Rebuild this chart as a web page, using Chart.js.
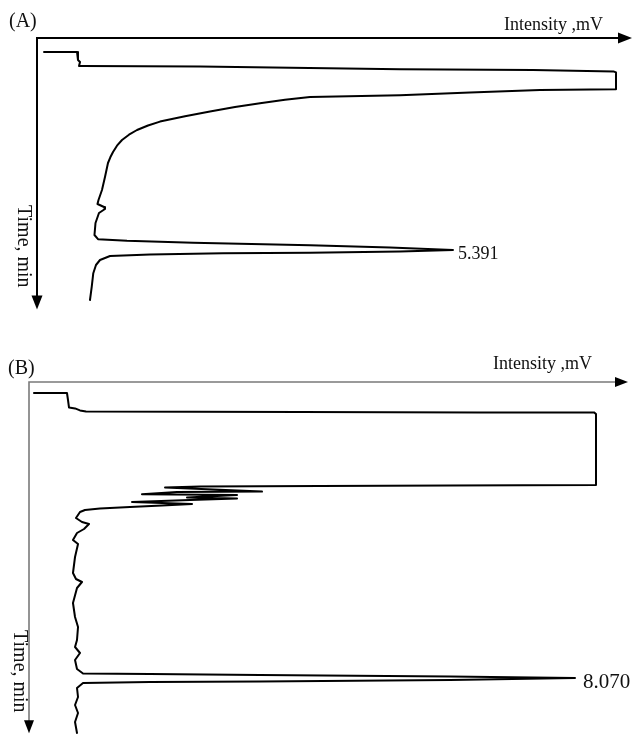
<!DOCTYPE html>
<html>
<head>
<meta charset="utf-8">
<script src="https://cdn.jsdelivr.net/npm/chart.js@4/dist/chart.umd.min.js"></script>
<style>
  html, body { margin: 0; padding: 0; background: #fff; }
  #wrap { position: relative; width: 632px; height: 734px; }
  canvas { position: absolute; left: 0; }
</style>
</head>
<body>
<div id="wrap">
  <canvas id="chartA" width="632" height="330" style="top:0"></canvas>
  <canvas id="chartB" width="632" height="404" style="top:330px"></canvas>
</div>
<script>
// Chromatogram (A): retention time (min) and detector signal (mV)
const timeA = [0.44, 0.44, 0.64, 0.69, 0.79, 0.79, 0.80, 0.87, 0.89, 0.93, 0.95,
  1.37, 1.39, 1.45, 1.52, 1.565, 1.635, 1.72, 1.815, 1.93, 2.0475, 2.18, 2.2775, 2.39,
  2.5075, 2.64, 2.7825, 2.94, 3.0725, 3.215, 3.565,
  3.89, 4.14, 4.24, 4.315, 4.365, 4.465, 4.715, 5.015, 5.12, 5.16, 5.21, 5.27, 5.33,
  5.391, 5.43, 5.46, 5.47, 5.50, 5.54, 5.64, 5.765, 5.97, 6.31, 6.64];
const intensityA = [1.17, 6.67, 6.83, 7.17, 7.0, 7.5, 27.17, 60.5, 82.67, 96.17, 96.5,
  96.5, 83.83, 72.17, 60.5, 45.5, 41.33, 37.17, 33.0, 28.83, 24.67, 20.5, 18.5, 16.67,
  15.33, 14.17, 13.33, 12.67, 12.22, 11.83, 11.33,
  10.83, 10.25, 10.08, 11.17, 11.33, 10.33, 9.75, 9.58, 10.17, 15.0, 26.0, 45.5, 58.83,
  69.33, 60.5, 45.5, 31.0, 18.83, 12.17, 10.5, 9.83, 9.38, 9.12, 8.83];
const peakA = 5.391;

// Chromatogram (B)
const timeB = [0.945, 0.945, 1.12, 1.31, 1.33, 1.38, 1.41, 1.42, 1.43, 1.43, 1.47,
  3.245, 3.26, 3.27, 3.2825, 3.3075, 3.41, 3.42, 3.4775, 3.495, 3.5575, 3.5825, 3.62,
  3.67, 3.72, 3.7575, 3.795, 3.8325, 3.87, 3.92, 4.07, 4.17, 4.22, 4.345, 4.445, 4.62,
  4.72, 5.045, 5.445, 5.595, 5.67, 5.82, 6.195, 6.545, 6.795, 7.12, 7.295, 7.445, 7.62,
  7.845, 7.9575, 7.97, 7.995, 8.0325, 8.070, 8.12, 8.1575, 8.17, 8.195, 8.32, 8.545,
  8.745, 8.945, 9.17, 9.445];
const intensityB = [0.83, 6.33, 6.5, 6.67, 7.67, 8.5, 9.5, 45.17, 75.17, 94.17, 94.5,
  94.5, 70.17, 48.5, 28.5, 22.67, 38.83, 24.67, 18.83, 34.67, 26.33, 34.67, 26.83,
  17.17, 27.17, 22.17, 16.83, 11.83, 9.33, 8.5, 7.83, 8.83, 10.0, 9.17, 8.0, 7.33,
  8.17, 7.67, 7.33, 7.83, 8.83, 8.0, 7.33, 7.67, 8.17, 8.0, 7.67, 8.5, 7.67,
  8.0, 9.0, 20.17, 38.5, 70.17, 91.0, 70.17, 38.5, 20.17, 9.0, 8.0, 8.17,
  7.67, 8.17, 7.67, 8.0];
const peakB = 8.070;

const panelLabels = ['(A)', '(B)'];
const intensityTitle = 'Intensity ,mV';
const timeTitle = 'Time, min';

const serif = '"Liberation Serif", "Times New Roman", serif';

// Time runs downward, intensity to the right; axes meet at the top-left corner.
const rotatedAxes = {
  id: 'rotatedAxes',
  afterDatasetsDraw(chart, args, o) {
    const ctx = chart.ctx, a = chart.chartArea;
    ctx.save();
    ctx.strokeStyle = o.axisColor;
    ctx.lineWidth = o.axisWidth;
    ctx.lineJoin = 'miter';
    ctx.beginPath();
    ctx.moveTo(a.left, a.bottom - o.head + 1);
    ctx.lineTo(a.left, a.top);
    ctx.lineTo(a.right - o.head + 1, a.top);
    ctx.stroke();

    ctx.fillStyle = '#000';
    ctx.beginPath();
    ctx.moveTo(a.right, a.top);
    ctx.lineTo(a.right - o.head, a.top - o.half);
    ctx.lineTo(a.right - o.head, a.top + o.half);
    ctx.closePath();
    ctx.fill();
    ctx.beginPath();
    ctx.moveTo(a.left, a.bottom);
    ctx.lineTo(a.left - o.half, a.bottom - o.head);
    ctx.lineTo(a.left + o.half, a.bottom - o.head);
    ctx.closePath();
    ctx.fill();

    ctx.fillStyle = '#111';
    ctx.textBaseline = 'alphabetic';
    ctx.font = o.panelFont + 'px ' + serif;
    ctx.textAlign = 'left';
    ctx.fillText(o.panel, o.panelX, o.panelY);

    ctx.font = o.titleFont + 'px ' + serif;
    ctx.textAlign = 'right';
    ctx.fillText(intensityTitle, a.right - o.xTitleInset, a.top - o.xTitleLift);

    ctx.save();
    ctx.translate(o.yTitleX, o.yTitleY);
    ctx.rotate(Math.PI / 2);
    ctx.font = o.yTitleFont + 'px ' + serif;
    ctx.textAlign = 'left';
    ctx.fillText(timeTitle, 0, 0);
    ctx.restore();

    // retention-time label beside the main peak
    const ds = chart.data.datasets[0].data;
    const top = ds.find(p => p.y === o.peak);
    const px = chart.scales.x.getPixelForValue(top.x);
    const py = chart.scales.y.getPixelForValue(top.y);
    ctx.font = o.peakFont + 'px ' + serif;
    ctx.textAlign = 'left';
    ctx.fillText(o.peak.toFixed(3), px + o.peakDx, py + o.peakDy);
    ctx.restore();
  }
};

function makeChart(id, times, values, opts) {
  const pts = times.map((t, i) => ({ x: values[i], y: t }));
  return new Chart(document.getElementById(id), {
    type: 'scatter',
    data: {
      datasets: [{
        data: pts,
        showLine: true,
        borderColor: '#000',
        borderWidth: 2,
        borderJoinStyle: 'round',
        borderCapStyle: 'round',
        pointRadius: 0,
        tension: 0,
        clip: false
      }]
    },
    options: {
      responsive: false,
      animation: false,
      events: [],
      devicePixelRatio: 1,
      layout: { padding: opts.padding },
      scales: {
        x: { type: 'linear', display: false, min: 0, max: opts.xMax },
        y: { type: 'linear', display: false, reverse: true, min: opts.yMin, max: opts.yMax }
      },
      plugins: {
        legend: { display: false },
        tooltip: { enabled: false },
        rotatedAxes: opts.axes
      }
    },
    plugins: [rotatedAxes]
  });
}

makeChart('chartA', timeA, intensityA, {
  padding: { left: 37, top: 38, right: 0, bottom: 20.6 },
  xMax: 99.1667, yMin: 0.09, yMax: 6.875,
  axes: {
    axisColor: '#000', axisWidth: 2, head: 14, half: 5.5,
    panel: panelLabels[0], panelFont: 20, panelX: 9, panelY: 27,
    titleFont: 18, xTitleInset: 29, xTitleLift: 8,
    yTitleFont: 20, yTitleX: 18, yTitleY: 205,
    peak: peakA, peakFont: 18, peakDx: 5, peakDy: 9
  }
});

makeChart('chartB', timeB, intensityB, {
  padding: { left: 29, top: 52, right: 4, bottom: 0.8 },
  xMax: 99.8333, yMin: 0.67, yMax: 9.45,
  axes: {
    axisColor: '#7a7a7a', axisWidth: 1.6, head: 13, half: 5,
    panel: panelLabels[1], panelFont: 20, panelX: 8, panelY: 44,
    titleFont: 18, xTitleInset: 36, xTitleLift: 13,
    yTitleFont: 20, yTitleX: 14, yTitleY: 300,
    peak: peakB, peakFont: 21, peakDx: 8, peakDy: 10
  }
});
</script>
</body>
</html>
